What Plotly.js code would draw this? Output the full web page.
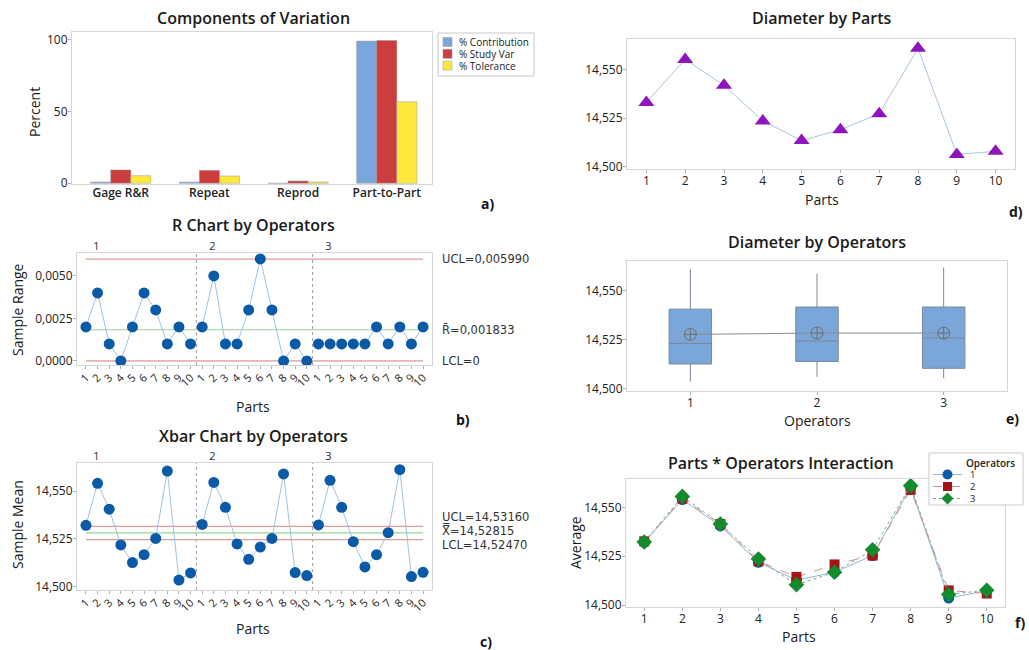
<!DOCTYPE html>
<html><head><meta charset="utf-8">
<script src="https://cdn.plot.ly/plotly-3.0.1.min.js"></script>
<style>html,body{margin:0;padding:0;background:#fff}#chart{width:1029px;height:650px}</style>
</head><body><div id="chart"></div>
<script>
// ---------- data ----------
const components = ['Gage R&R', 'Repeat', 'Reprod', 'Part-to-Part'];
const pctContribution = [0.86, 0.81, 0.03, 99.14];
const pctStudyVar = [9.3, 9.0, 1.6, 99.57];
const pctTolerance = [5.3, 5.1, 0.9, 56.8];
const barSeriesNames = ['% Contribution', '% Study Var', '% Tolerance'];

const parts = [1, 2, 3, 4, 5, 6, 7, 8, 9, 10];
const operators = [1, 2, 3];

const rangeOp1 = [0.002, 0.004, 0.001, 0.000, 0.002, 0.004, 0.003, 0.001, 0.002, 0.001];
const rangeOp2 = [0.002, 0.005, 0.001, 0.001, 0.003, 0.006, 0.003, 0.000, 0.001, 0.000];
const rangeOp3 = [0.001, 0.001, 0.001, 0.001, 0.001, 0.002, 0.001, 0.002, 0.001, 0.002];
const rLimits = [0.005990, 0.001833, 0];          // UCL, R-bar, LCL

const meanOp1 = [14.5321, 14.5540, 14.5405, 14.5219, 14.5127, 14.5168, 14.5253, 14.5604, 14.5036, 14.5073];
const meanOp2 = [14.5326, 14.5545, 14.5415, 14.5224, 14.5144, 14.5208, 14.5253, 14.5589, 14.5075, 14.5059];
const meanOp3 = [14.5323, 14.5556, 14.5415, 14.5236, 14.5104, 14.5168, 14.5283, 14.5611, 14.5054, 14.5076];
const xbarLimits = [14.53160, 14.52815, 14.52470]; // UCL, X-double-bar, LCL

const partMeans = [14.5330, 14.5551, 14.5418, 14.5235, 14.5134, 14.5190, 14.5272, 14.5608, 14.5063, 14.5079];

const boxUpper = [14.5609, 14.5587, 14.5619];
const boxQ3 = [14.5406, 14.5417, 14.5417];
const boxMedian = [14.5231, 14.5243, 14.5259];
const boxQ1 = [14.5126, 14.5139, 14.5104];
const boxLower = [14.5036, 14.5060, 14.5053];
const operatorMeans = [14.5277, 14.5284, 14.5284];

// ---------- helpers ----------
const W = 1029, H = 650;
const FONT = 'Open Sans, Noto Sans, sans-serif';
const fx = p => p / W;
const fy = p => 1 - p / H;
const BORDER = '#d6d6d6';
const comma = (v, d) => v.toFixed(d).replace('.', ',');

function axis(dom, anchor, extra) {
  return Object.assign({
    domain: dom, anchor: anchor, showline: true, mirror: true, linecolor: BORDER, linewidth: 1,
    showgrid: false, zeroline: false, ticks: 'outside', ticklen: 3, tickcolor: '#b0b0b0',
    ticklabelstandoff: -2,
    tickfont: {family: FONT, size: 12, color: '#222'}, fixedrange: true
  }, extra);
}
const seqIdx = (op) => parts.map((p, i) => (op - 1) * parts.length + i);

const barColors = ['#7BA6DA', '#CC3D3D', '#FFE83D'];
const traces = [];
// a) bars
[pctContribution, pctStudyVar, pctTolerance].forEach((vals, k) => {
  traces.push({type: 'bar', x: components, y: vals, name: barSeriesNames[k], xaxis: 'x', yaxis: 'y',
    showlegend: false, marker: {color: barColors[k], line: {color: '#9a9a9a', width: 0.5}}});
});

// b) R chart and c) Xbar chart
const rSets = [rangeOp1, rangeOp2, rangeOp3];
const mSets = [meanOp1, meanOp2, meanOp3];
operators.forEach((op, k) => {
  traces.push({type: 'scatter', mode: 'lines+markers', x: seqIdx(op), y: rSets[k], xaxis: 'x2', yaxis: 'y2',
    showlegend: false, line: {color: '#9FC2E2', width: 1}, marker: {color: '#0A5AA8', size: 11}});
  traces.push({type: 'scatter', mode: 'lines+markers', x: seqIdx(op), y: mSets[k], xaxis: 'x3', yaxis: 'y3',
    showlegend: false, line: {color: '#9FC2E2', width: 1}, marker: {color: '#0A5AA8', size: 11}});
});

// d) Diameter by parts
traces.push({type: 'scatter', mode: 'lines+markers', x: parts, y: partMeans, xaxis: 'x4', yaxis: 'y4',
  showlegend: false, line: {color: '#A9C6DE', width: 1},
  marker: {symbol: 'triangle-up', color: '#8E14BF', size: 14}});

// e) boxplot
traces.push({type: 'box', x: operators, q1: boxQ1, median: boxMedian, q3: boxQ3,
  lowerfence: boxLower, upperfence: boxUpper, xaxis: 'x5', yaxis: 'y5', showlegend: false,
  width: 0.335, whiskerwidth: 0, fillcolor: '#7BA6DA', line: {color: '#7A8799', width: 1}, hoverinfo: 'skip'});
traces.push({type: 'scatter', mode: 'lines+markers', x: operators, y: operatorMeans, xaxis: 'x5', yaxis: 'y5',
  showlegend: false, line: {color: '#8c8c8c', width: 1},
  marker: {symbol: 'circle-cross-open', color: '#6f6f6f', size: 12, line: {width: 1}}});

// f) interaction
const fStyles = [
  {line: {color: '#8DB6DB', width: 1, dash: 'solid'}, marker: {symbol: 'circle', color: '#0A5AA8', size: 11}},
  {line: {color: '#E08A8A', width: 1, dash: 'dash'}, marker: {symbol: 'square', color: '#A51515', size: 10}},
  {line: {color: '#7FA88A', width: 1, dash: 'dot'}, marker: {symbol: 'diamond', color: '#138A2E', size: 12}}
];
operators.forEach((op, k) => {
  traces.push(Object.assign({type: 'scatter', mode: 'lines+markers', x: parts, y: mSets[k], name: String(op),
    xaxis: 'x6', yaxis: 'y6', showlegend: false}, fStyles[k]));
});

// ---------- layout ----------
const shapes = [];
const annotations = [];
function ann(text, x, y, size, extra) {
  annotations.push(Object.assign({text: text, x: fx(x), y: fy(y), xref: 'paper', yref: 'paper',
    xanchor: 'center', yanchor: 'middle', showarrow: false,
    font: {family: FONT, size: size, color: '#1a1a1a'}}, extra || {}));
}
const titleFont = {family: FONT, size: 16, color: '#1a1a1a', weight: 600};
ann('Components of Variation', 253, 18, 16, {font: titleFont});
ann('R Chart by Operators', 253, 225, 16, {font: titleFont});
ann('Xbar Chart by Operators', 253, 436, 16, {font: titleFont});
ann('Diameter by Parts', 822, 18, 16, {font: titleFont});
ann('Diameter by Operators', 817, 242, 16, {font: titleFont});
ann('Parts * Operators Interaction', 781, 463, 16, {font: titleFont});
// axis titles
ann('Percent', 35, 112, 14, {textangle: -90});
ann('Sample Range', 17, 310, 14, {textangle: -90});
ann('Sample Mean', 17, 525, 14, {textangle: -90});
ann('Average', 575, 543, 14, {textangle: -90});
ann('Parts', 253, 406, 14);
ann('Parts', 253, 628, 14);
ann('Parts', 822, 199, 14);
ann('Operators', 817, 420, 14);
ann('Parts', 799, 636, 14);
// panel letters
const bold = {family: FONT, size: 14, color: '#111', weight: 700};
ann('a)', 487, 203, 14, {font: bold});
ann('b)', 463, 419, 14, {font: bold});
ann('c)', 486, 641, 14, {font: bold});
ann('d)', 1016, 211, 14, {font: bold});
ann('e)', 1012, 418, 14, {font: bold});
ann('f)', 1020, 622, 14, {font: bold});

// legend of a) (compact, drawn as layout decoration)
shapes.push({type: 'rect', xref: 'paper', yref: 'paper', x0: fx(438), x1: fx(534), y0: fy(76), y1: fy(33),
  line: {color: '#c8c8c8', width: 1}, fillcolor: '#fff', layer: 'below'});
barSeriesNames.forEach((nm, k) => {
  const cy = 42 + k * 11.8;
  shapes.push({type: 'rect', xref: 'paper', yref: 'paper', x0: fx(443), x1: fx(452), y0: fy(cy + 4.5), y1: fy(cy - 4.5),
    line: {color: '#9a9a9a', width: 0.5}, fillcolor: barColors[k]});
  ann(nm, 457, cy, 10, {xanchor: 'left', font: {family: FONT, size: 10, color: '#222'}});
});

// legend of f)
shapes.push({type: 'rect', xref: 'paper', yref: 'paper', x0: fx(929), x1: fx(1023), y0: fy(505), y1: fy(453),
  line: {color: '#c8c8c8', width: 1}, fillcolor: '#fff'});
ann('Operators', 990, 463, 10, {font: {family: FONT, size: 10, color: '#222', weight: 600}});
operators.forEach((op, k) => {
  const cy = 474.5 + k * 12, st = fStyles[k];
  shapes.push({type: 'line', xref: 'paper', yref: 'paper', x0: fx(933), x1: fx(962), y0: fy(cy), y1: fy(cy),
    line: {color: st.line.color, width: 1, dash: st.line.dash}});
  const r = 4.5, cx = 947.5;
  if (st.marker.symbol === 'circle') {
    shapes.push({type: 'circle', xref: 'paper', yref: 'paper', x0: fx(cx - r - 0.5), x1: fx(cx + r + 0.5),
      y0: fy(cy + r + 0.5), y1: fy(cy - r - 0.5), line: {width: 0}, fillcolor: st.marker.color});
  } else if (st.marker.symbol === 'square') {
    shapes.push({type: 'rect', xref: 'paper', yref: 'paper', x0: fx(cx - r), x1: fx(cx + r),
      y0: fy(cy + r), y1: fy(cy - r), line: {width: 0}, fillcolor: st.marker.color});
  } else {
    const d = r + 1.5;
    shapes.push({type: 'path', xref: 'paper', yref: 'paper',
      path: `M ${fx(cx)} ${fy(cy - d)} L ${fx(cx + d)} ${fy(cy)} L ${fx(cx)} ${fy(cy + d)} L ${fx(cx - d)} ${fy(cy)} Z`,
      line: {width: 0}, fillcolor: st.marker.color});
  }
  ann(String(op), 968, cy, 9.5, {xanchor: 'left', font: {family: FONT, size: 9.5, color: '#222'}});
});

// control lines + labels + dividers + operator labels for b and c
const limitColors = ['#E09A9A', '#9AD29A', '#E09A9A'];
[['x2', 'y2', rLimits, ['UCL=', 'R\u0304=', 'LCL='], 6, [0, 0, 0]],
 ['x3', 'y3', xbarLimits, ['UCL=', 'X\u033F=', 'LCL='], 5, [9, 2, -5]]].forEach(([xa, ya, lims, pre, dec, shifts]) => {
  lims.forEach((v, i) => {
    shapes.push({type: 'line', xref: xa, yref: ya, x0: 0, x1: 29, y0: v, y1: v,
      line: {color: limitColors[i], width: 1.2}, layer: 'below'});
    annotations.push({text: pre[i] + (v === 0 ? '0' : comma(v, dec)), xref: 'paper', yref: ya, x: fx(440), y: v,
      xanchor: 'left', yanchor: 'middle', yshift: shifts[i], showarrow: false,
      font: {family: 'DejaVu Sans, ' + FONT, size: 11.5, color: '#333'}});
  });
  [9.5, 19.5].forEach(d => shapes.push({type: 'line', xref: xa, yref: ya + ' domain', x0: d, x1: d, y0: 0, y1: 1,
    line: {color: '#9a9ab8', width: 1, dash: 'dot'}, layer: 'below'}));
  operators.forEach((op) => annotations.push({text: String(op), xref: xa, yref: ya + ' domain',
    x: (op - 1) * parts.length + 0.9, y: 1, yanchor: 'bottom', yshift: -2, showarrow: false,
    font: {family: FONT, size: 11.5, color: '#333'}}));
});

const seqTicks = operators.flatMap(op => seqIdx(op));
const seqText = operators.flatMap(() => parts.map(String));
const meanTicks = [14.500, 14.525, 14.550];

const layout = {
  width: W, height: H, margin: {l: 0, r: 0, t: 0, b: 0},
  paper_bgcolor: '#fff', plot_bgcolor: '#fff', separators: ',.', showlegend: false,
  font: {family: FONT, size: 12, color: '#222'},
  barmode: 'group', bargap: 0.32, bargroupgap: 0,
  xaxis: axis([fx(72), fx(432)], 'y', {type: 'category', range: [-0.55, 3.51], ticks: '',
    tickfont: {family: FONT, size: 12, color: '#222', weight: 600}}),
  yaxis: axis([fy(184), fy(32)], 'x', {range: [-0.5, 105.5], tickvals: [0, 50, 100]}),
  xaxis2: axis([fx(77), fx(432)], 'y2', {range: [-0.77, 29.77], tickvals: seqTicks, ticktext: seqText,
    tickangle: -45, tickfont: {family: FONT, size: 11, color: '#222'}}),
  yaxis2: axis([fy(365), fy(253)], 'x2', {range: [-0.00024, 0.00635], tickvals: [0, 0.0025, 0.005], tickformat: '.4f'}),
  xaxis3: axis([fx(77), fx(432)], 'y3', {range: [-0.77, 29.77], tickvals: seqTicks, ticktext: seqText,
    tickangle: -45, tickfont: {family: FONT, size: 11, color: '#222'}}),
  yaxis3: axis([fy(590), fy(463)], 'x3', {range: [14.4984, 14.5646], tickvals: meanTicks, tickformat: '.3f'}),
  xaxis4: axis([fx(627), fx(1015)], 'y4', {range: [0.5, 10.5], tickvals: parts}),
  yaxis4: axis([fy(169), fy(39)], 'x4', {range: [14.4988, 14.5656], tickvals: meanTicks, tickformat: '.3f'}),
  xaxis5: axis([fx(627), fx(1007)], 'y5', {range: [0.5, 3.5], tickvals: operators}),
  yaxis5: axis([fy(391), fy(261)], 'x5', {range: [14.4988, 14.5652], tickvals: meanTicks, tickformat: '.3f'}),
  xaxis6: axis([fx(626), fx(1005)], 'y6', {range: [0.52, 10.48], tickvals: parts}),
  yaxis6: axis([fy(607), fy(479)], 'x6', {range: [14.499, 14.5645], tickvals: meanTicks, tickformat: '.3f'}),
  shapes: shapes, annotations: annotations
};

Plotly.newPlot('chart', traces, layout, {displayModeBar: false, staticPlot: true});
</script>
</body></html>
